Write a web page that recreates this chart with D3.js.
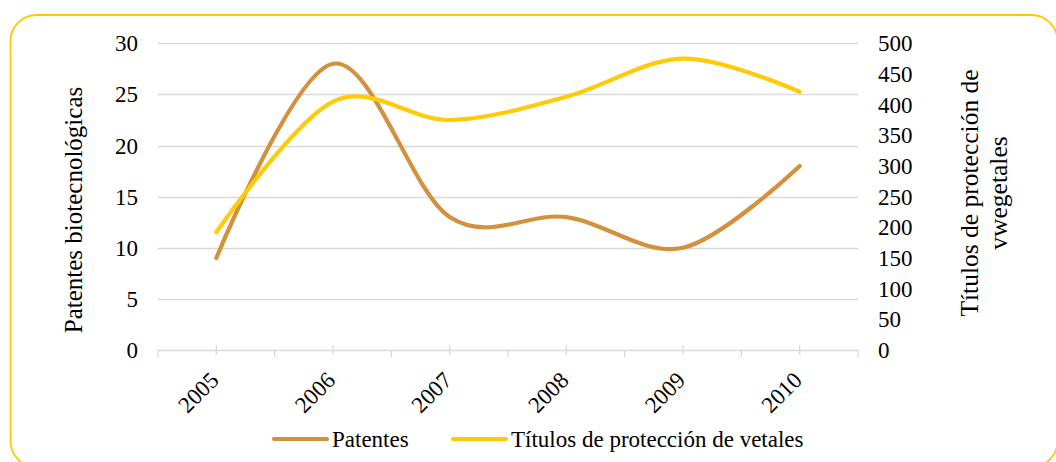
<!DOCTYPE html>
<html><head><meta charset="utf-8">
<script src="https://cdn.jsdelivr.net/npm/d3@7"></script>
<style>
html,body{margin:0;padding:0;background:#fff;}
svg{display:block;}
text{font-family:"Liberation Serif","Times New Roman",serif;fill:#000;}
</style></head>
<body>
<svg id="chart" width="1056" height="462"></svg>
<script>
const years = ["2005","2006","2007","2008","2009","2010"];
const patentes = [9, 28, 13, 13, 10, 18];
const titulos = [192, 405, 375, 413, 475, 421];
const leftTicks = [0,5,10,15,20,25,30];
const rightTicks = [0,50,100,150,200,250,300,350,400,450,500];
const seriesNames = ["Patentes", "Títulos de protección de vetales"];
const leftTitle = "Patentes biotecnológicas";
const rightTitleLines = ["Títulos de protección de", "vwegetales"];

const colBrown = "#D2913D", colYellow = "#FFCA08", grid = "#D9D9D9";
const svg = d3.select("#chart");
svg.style("font-family", "'Liberation Serif','Times New Roman',serif");

// border
svg.append("rect").attr("x",10.5).attr("y",15).attr("width",1047).attr("height",452)
  .attr("rx",26).attr("fill","none").attr("stroke","#FFC800").attr("stroke-width",1.8);

const x = d3.scaleBand().domain(years).range([158, 858]);
const cx = d => x(d) + x.bandwidth()/2;
const yL = d3.scaleLinear().domain([0,30]).range([350, 43.3]);
const yR = d3.scaleLinear().domain([0,500]).range([350, 43.3]);

// gridlines
svg.append("g").selectAll("line").data(leftTicks).join("line")
  .attr("x1",158).attr("x2",858).attr("y1",d=>Math.round(yL(d))+0.5).attr("y2",d=>Math.round(yL(d))+0.5)
  .attr("stroke",grid).attr("stroke-width",1.3);

// x axis ticks
const bounds = years.map(d=>x(d)).concat([858]);
svg.append("g").selectAll("line").data(bounds).join("line")
  .attr("x1",d=>d).attr("x2",d=>d).attr("y1",350).attr("y2",357).attr("stroke",grid).attr("stroke-width",1.3);
svg.append("g").selectAll("line").data(years).join("line")
  .attr("x1",d=>cx(d)).attr("x2",d=>cx(d)).attr("y1",345).attr("y2",355).attr("stroke",grid).attr("stroke-width",1.3);

// left axis labels
svg.append("g").selectAll("text").data(leftTicks).join("text")
  .attr("x",138).attr("y",d=>yL(d)).attr("dy","0.35em").attr("text-anchor","end")
  .attr("font-size",23).text(d=>d);
// right axis labels
svg.append("g").selectAll("text").data(rightTicks).join("text")
  .attr("x",878).attr("y",d=>yR(d)).attr("dy","0.35em").attr("text-anchor","start")
  .attr("font-size",23).text(d=>d);

// x labels rotated
svg.append("g").selectAll("text").data(years).join("text")
  .attr("transform",d=>`translate(${cx(d)-2},${376}) rotate(-45)`)
  .attr("text-anchor","end").attr("dy","0.35em").attr("font-size",23).text(d=>d);

// axis titles
svg.append("text").attr("transform","translate(82,210) rotate(-90)")
  .attr("text-anchor","middle").attr("font-size",25).text(leftTitle);
const rt = svg.append("text").attr("transform","translate(978,193) rotate(-90)")
  .attr("text-anchor","middle").attr("font-size",25.5);
rt.selectAll("tspan").data(rightTitleLines).join("tspan")
  .attr("x",0).attr("dy",(d,i)=>i===0?0:29).text(d=>d);

// lines
const curve = d3.curveCardinal.tension(0);
const lineL = d3.line().x((d,i)=>cx(years[i])).y(d=>yL(d)).curve(curve);
const lineR = d3.line().x((d,i)=>cx(years[i])).y(d=>yR(d)).curve(curve);
svg.append("path").attr("d",lineL(patentes)).attr("fill","none").attr("stroke",colBrown)
  .attr("stroke-width",4.2).attr("stroke-linecap","round");
svg.append("path").attr("d",lineR(titulos)).attr("fill","none").attr("stroke",colYellow)
  .attr("stroke-width",4.2).attr("stroke-linecap","round");

// legend
const leg = [{x:274, c:colBrown, t:seriesNames[0]}, {x:453, c:colYellow, t:seriesNames[1]}];
const lg = svg.append("g");
leg.forEach(l=>{
  lg.append("line").attr("x1",l.x).attr("x2",l.x+53).attr("y1",439).attr("y2",439)
    .attr("stroke",l.c).attr("stroke-width",4.2).attr("stroke-linecap","round");
  lg.append("text").attr("x",l.x+58).attr("y",439).attr("dy","0.35em").attr("font-size",23).text(l.t);
});
</script>
</body></html>
